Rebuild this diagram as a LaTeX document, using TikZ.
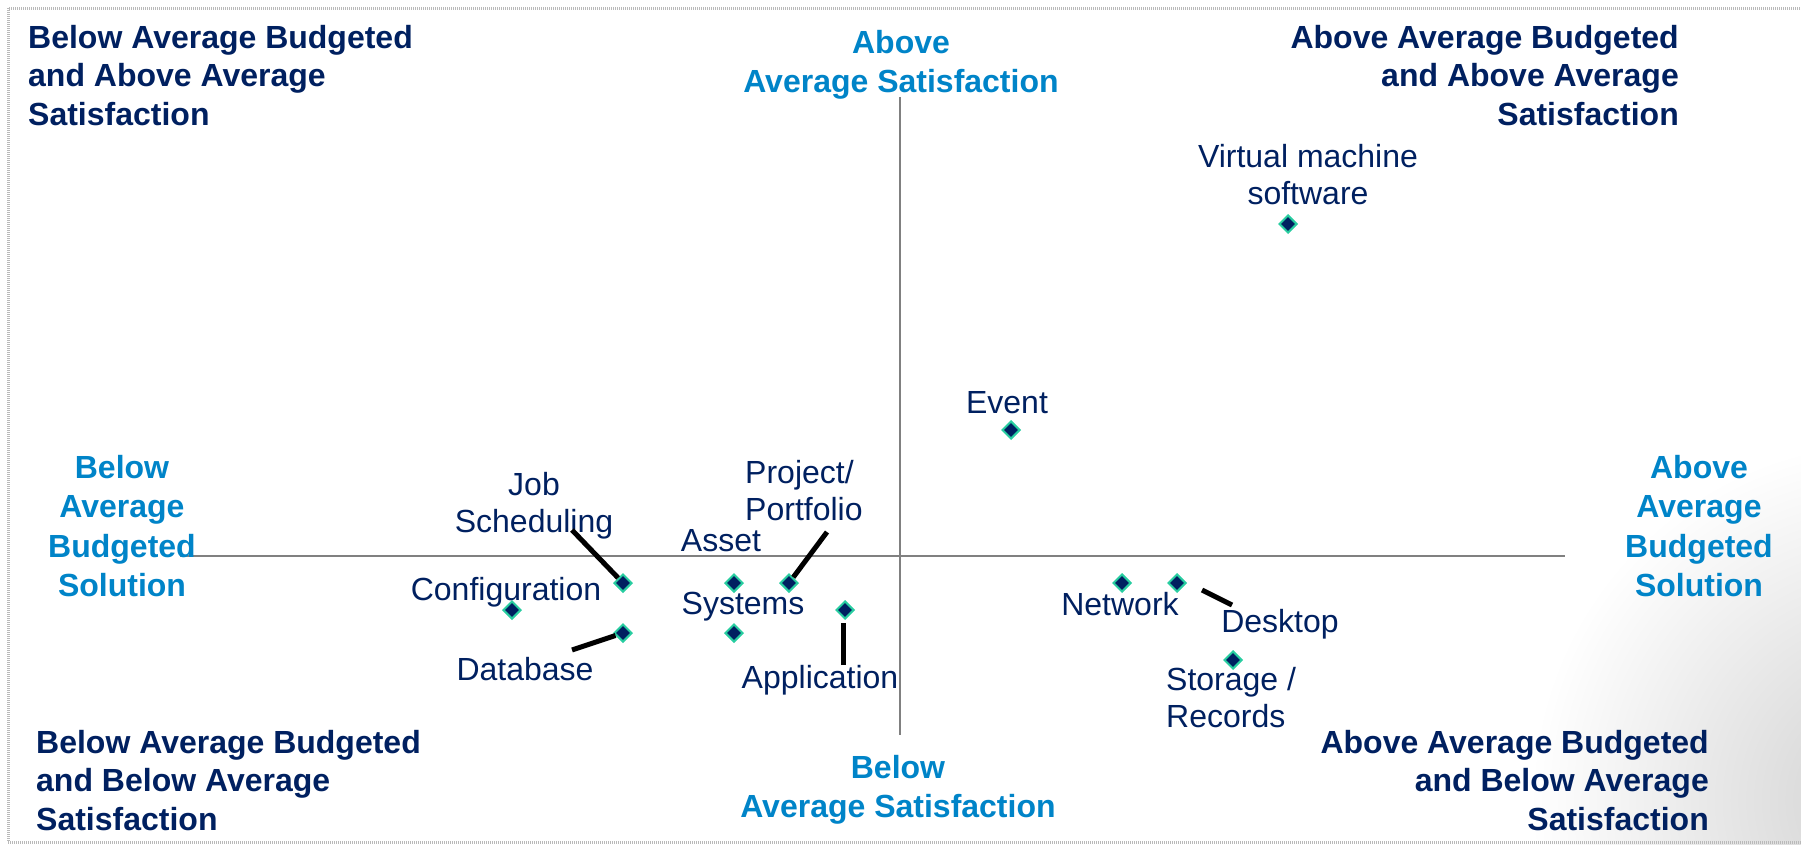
\documentclass[tikz,border=0pt]{standalone}
\usepackage{fontspec}
\setmainfont{Liberation Sans}
\usetikzlibrary{shapes.geometric}
\definecolor{navy}{RGB}{0,32,96}
\definecolor{headblue}{RGB}{0,132,200}
\definecolor{markteal}{RGB}{40,205,160}
\definecolor{axisgray}{RGB}{128,128,128}

\begin{document}
\begin{tikzpicture}[x=1pt, y=-1pt,
    quadlabel/.style={font=\fontsize{32}{38.5}\selectfont\bfseries, text=navy, inner sep=0},
    axislabel/.style={font=\fontsize{32}{39.5}\selectfont\bfseries, text=headblue, inner sep=0, align=center, anchor=north},
    itemlabel/.style={font=\fontsize{32}{37.5}\selectfont, text=navy, inner sep=0, anchor=north, align=center},
    datapt/.style={diamond, fill=navy, draw=markteal, line width=2pt, minimum size=18pt, inner sep=0},
    leader/.style={line width=5pt, black}]
    \useasboundingbox (0,0) rectangle (1801,844);

    \begin{scope}
        \clip (0,0) rectangle (1801,844);
        \shade[inner color=gray!36, outer color=white] (1890,800) circle (360);
        \draw[gray!55, line width=3pt, dash pattern=on 1pt off 1pt] (8,8) rectangle (1820,842);
    \end{scope}

    % axes
    \coordinate (xl) at (180,556);
    \coordinate (xr) at (1565,556);
    \coordinate (yt) at (900,97);
    \coordinate (yb) at (900,735);
    \draw[axisgray, line width=2pt] (xl) -- (xr);
    \draw[axisgray, line width=2pt] (yt) -- (yb);

    % quadrant captions
    \node[quadlabel, anchor=north west, align=left] (tl) at (28,25) {Below Average Budgeted\\and Above Average\\Satisfaction};
    \node[quadlabel, anchor=north east, align=right] (tr) at (1679,25) {Above Average Budgeted\\and Above Average\\Satisfaction};
    \node[quadlabel, anchor=north west, align=left] (bl) at (36,730) {Below Average Budgeted\\and Below Average\\Satisfaction};
    \node[quadlabel, anchor=north east, align=right] (br) at (1709,730) {Above Average Budgeted\\and Below Average\\Satisfaction};

    \node[axislabel] (top) at (901,30) {Above\\Average Satisfaction};
    \node[axislabel] (bot) at (898,755) {Below\\Average Satisfaction};
    \node[axislabel] (left) at (122,455) {Below\\Average\\Budgeted\\Solution};
    \node[axislabel] (right) at (1699,455) {Above\\Average\\Budgeted\\Solution};

    % solutions
    \node[datapt] (vmpt) at (1288,224) {};
    \node[datapt] (evpt) at (1011,430) {};
    \node[datapt] (jobpt) at (623,583) {};
    \node[datapt] (cfgpt) at (512,610) {};
    \node[datapt] (dbpt) at (623,633) {};
    \node[datapt] (asspt) at (734,583) {};
    \node[datapt] (syspt) at (734,633) {};
    \node[datapt] (projpt) at (789,583) {};
    \node[datapt] (apppt) at (845,610) {};
    \node[datapt] (netpt) at (1122,583) {};
    \node[datapt] (dskpt) at (1177,583) {};
    \node[datapt] (stopt) at (1233,660) {};

    \node[itemlabel] (vm) at (1308,144) {Virtual machine\\software};
    \node[itemlabel] (ev) at (1007,391) {Event};
    \node[itemlabel] (job) at (534,472) {Job\\Scheduling};
    \node[itemlabel] (cfg) at (506,577) {Configuration};
    \node[itemlabel] (db) at (525,657) {Database};
    \node[itemlabel] (ass) at (721,529) {Asset};
    \node[itemlabel] (sys) at (743,592) {Systems};
    \node[itemlabel, anchor=north west, align=left] (proj) at (745,460) {Project/\\Portfolio};
    \node[itemlabel] (app) at (820,665) {Application};
    \node[itemlabel] (net) at (1120,592) {Network};
    \node[itemlabel] (dsk) at (1280,609) {Desktop};
    \node[itemlabel, anchor=north west, align=left] (sto) at (1166,667) {Storage /\\Records};

    % leader lines
    \coordinate (jobA) at (572,530);
    \coordinate (projA) at (827,532);
    \coordinate (dbA) at (572,650);
    \coordinate (appA) at (843,665);
    \coordinate (dskA) at (1202,590);
    \coordinate (dskB) at (1232,605);
    \draw[leader] (jobA) -- (jobpt);
    \draw[leader] (projA) -- (projpt);
    \draw[leader] (dbA) -- (dbpt);
    \draw[leader, shorten >=3pt] (appA) -- (appA |- apppt.south);
    \draw[leader] (dskA) -- (dskB);

\end{tikzpicture}
\end{document}
